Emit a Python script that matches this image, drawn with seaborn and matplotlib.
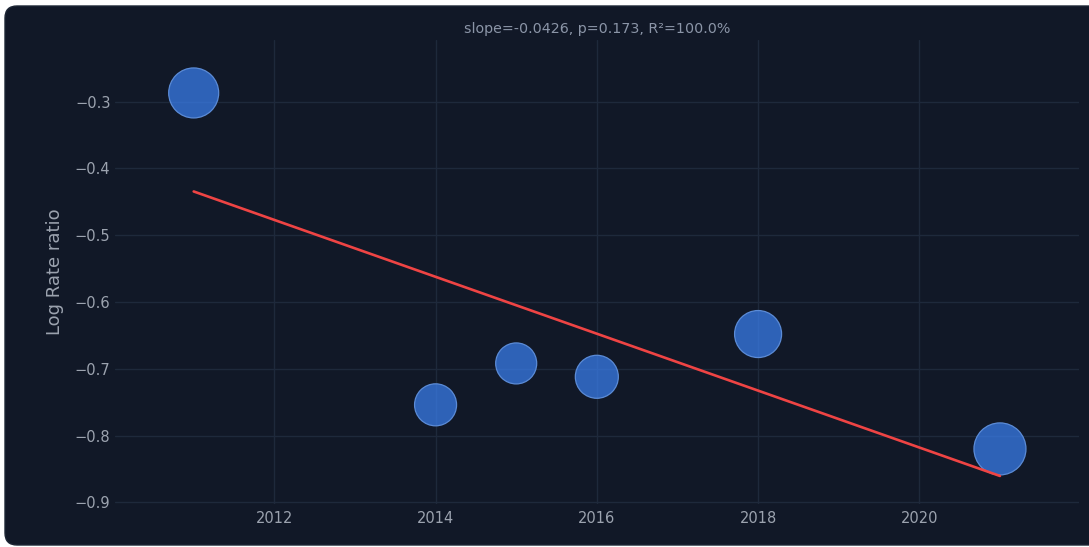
import numpy as np
import pandas as pd
import seaborn as sns
import matplotlib.pyplot as plt
from matplotlib.patches import FancyBboxPatch

# data
years = [2011, 2014, 2015, 2016, 2018, 2021]
log_rate_ratio = [-0.287, -0.754, -0.692, -0.712, -0.648, -0.820]
weight = [50, 42, 41, 43, 47, 52]  # bubble diameter (px)

trend_x = [2011, 2021]
trend_y = [-0.4345, -0.8605]

title_text = "slope=-0.0426, p=0.173, R\u00b2=100.0%"

BG = "#111827"
GRID = "#1e293b"
TXT = "#9ca3af"

sns.set_style("dark")
plt.rcParams["font.family"] = ["DejaVu Sans"]

fig = plt.figure(figsize=(10.89, 5.47), dpi=100, facecolor="white")

# dark rounded card behind the chart
card = FancyBboxPatch((0.05, 0.02), 11.0, 5.39,
                      boxstyle="round,pad=0,rounding_size=0.12",
                      transform=fig.dpi_scale_trans,
                      facecolor=BG, edgecolor="#1c2534", linewidth=1, zorder=-10)
fig.add_artist(card)

ax = fig.add_axes([0.1053, 0.0786, 0.8855, 0.8483])
ax.set_facecolor(BG)

df = pd.DataFrame({"year": years, "lrr": log_rate_ratio, "w": weight})
size_map = {w: (w * 0.72) ** 2 for w in weight}

sns.scatterplot(data=df, x="year", y="lrr", size="w", sizes=size_map,
                color=(59 / 255, 130 / 255, 246 / 255, 0.7),
                edgecolor="#5b8bd6", linewidth=0.9, legend=False, ax=ax, zorder=3)

sns.lineplot(x=trend_x, y=trend_y, color="#ef4444", linewidth=1.9, ax=ax, zorder=4)

ax.set_xlim(2010.02, 2021.98)
ax.set_ylim(-0.9025, -0.2077)
ax.set_xticks([2012, 2014, 2016, 2018, 2020])
ax.set_yticks([-0.9, -0.8, -0.7, -0.6, -0.5, -0.4, -0.3])
ax.set_yticklabels(["\u22120.9", "\u22120.8", "\u22120.7", "\u22120.6", "\u22120.5", "\u22120.4", "\u22120.3"])

ax.grid(True, color=GRID, linewidth=1)
ax.set_axisbelow(True)
for s in ax.spines.values():
    s.set_visible(False)
ax.tick_params(axis="both", length=0, labelsize=10.5, colors=TXT)
ax.tick_params(axis="x", pad=5)
ax.tick_params(axis="y", pad=3)

ax.set_xlabel("")
ax.set_ylabel("Log Rate ratio", fontsize=13, color=TXT, labelpad=8)
ax.set_title(title_text, fontsize=10.3, color="#8b95a7", pad=5)

fig.savefig("out.png", dpi=100, facecolor="white")
